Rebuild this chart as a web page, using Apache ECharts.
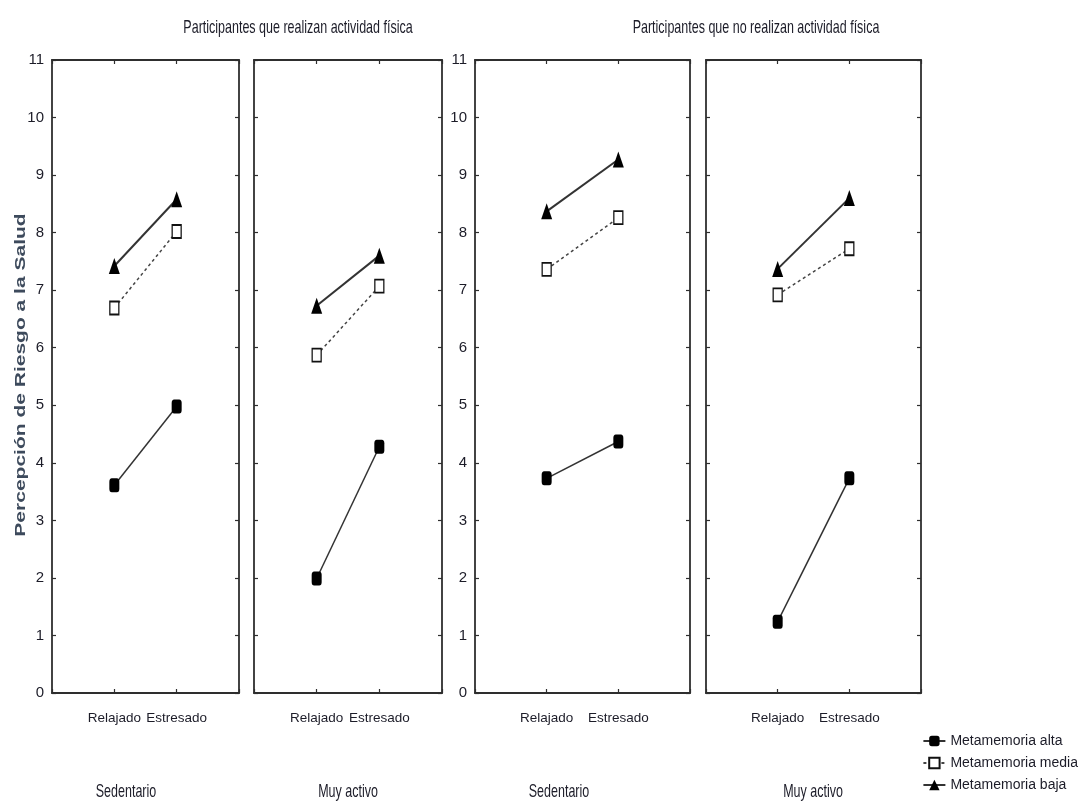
<!DOCTYPE html>
<html><head><meta charset="utf-8">
<script src="https://cdn.jsdelivr.net/npm/echarts@6/dist/echarts.min.js"></script>
<style>html,body{margin:0;padding:0;background:#fff}#c{width:1091px;height:803px}</style>
</head><body><div id="c"></div>
<script>
// ---- data ----
const conditions = ['', 'Relajado', 'Estresado', ''];
const panelGroups = ['Sedentario', 'Muy activo', 'Sedentario', 'Muy activo'];
const panelTitles = ['Participantes que realizan actividad física', 'Participantes que no realizan actividad física'];
const yAxisTitle = 'Percepción de Riesgo a la Salud';
const seriesNames = ['Metamemoria alta', 'Metamemoria media', 'Metamemoria baja'];
// values per panel: [Relajado, Estresado]
const metaAlta  = [[3.61, 4.98], [1.99, 4.28], [3.73, 4.37], [1.24, 3.73]];
const metaMedia = [[6.69, 8.02], [5.87, 7.07], [7.36, 8.26], [6.92, 7.72]];
const metaBaja  = [[7.42, 8.58], [6.73, 7.60], [8.37, 9.27], [7.37, 8.60]];

// ---- layout ----
const FONT = '"Liberation Sans",Arial,sans-serif';
const TXT = '#1c1c28';
const LINE = '#2e2e2e';
const panels = [
  {left: 52, width: 187, labels: true},
  {left: 254, width: 188, labels: false},
  {left: 475, width: 215, labels: true},
  {left: 706, width: 215, labels: false}
];
const TOP = 60, HEIGHT = 633;
const groupLabelX = [126, 348, 559, 813];
const STRETCH = 1.45;

const grid = [], xAxis = [], yAxis = [], series = [];
const styles = [
  {data: metaAlta, symbol: 'roundRect', size: [10, 14], lineType: 'solid', width: 1.5, fill: '#000', border: '#000'},
  {data: metaMedia, symbol: 'rect', size: [9, 13], lineType: [3, 3], width: 1.5, fill: '#fff', border: '#111'},
  {data: metaBaja, symbol: 'triangle', size: [11, 16], lineType: 'solid', width: 2, fill: '#000', border: '#000'}
];
panels.forEach((p, i) => {
  grid.push({left: p.left, top: TOP, width: p.width, height: HEIGHT, containLabel: false});
  const tick = {show: true, inside: true, length: 4, lineStyle: {color: LINE, width: 1.2}};
  const axLine = {show: true, onZero: false, lineStyle: {color: LINE, width: 1.8}};
  xAxis.push({type: 'category', gridIndex: i, position: 'bottom', data: conditions, boundaryGap: false,
    axisLine: axLine, axisTick: Object.assign({interval: 0}, tick),
    axisLabel: {interval: 0, margin: 18, fontFamily: FONT, fontSize: 13.5, color: TXT}, splitLine: {show: false}});
  xAxis.push({type: 'category', gridIndex: i, position: 'top', data: conditions, boundaryGap: false,
    axisLine: axLine, axisTick: Object.assign({interval: 0}, tick), axisLabel: {show: false}, splitLine: {show: false}});
  yAxis.push({type: 'value', gridIndex: i, position: 'left', min: 0, max: 11, interval: 1,
    axisLine: axLine, axisTick: tick,
    axisLabel: {show: p.labels, margin: 8, fontFamily: FONT, fontSize: 15, color: TXT}, splitLine: {show: false}});
  yAxis.push({type: 'value', gridIndex: i, position: 'right', min: 0, max: 11, interval: 1,
    axisLine: axLine, axisTick: tick, axisLabel: {show: false}, splitLine: {show: false}});
  styles.forEach((s, k) => {
    series.push({
      name: seriesNames[k], type: 'line', xAxisIndex: i * 2, yAxisIndex: i * 2,
      data: ['-', s.data[i][0], s.data[i][1], '-'],
      symbol: s.symbol, symbolSize: s.size, showAllSymbol: true, connectNulls: false,
      lineStyle: {color: k === 1 ? '#444' : '#333', width: s.width, type: s.lineType},
      itemStyle: {color: s.fill, borderColor: s.border, borderWidth: k === 1 ? 1.5 : 0},
      emphasis: {disabled: true}, animation: false, z: 3 - k
    });
  });
});

const graphic = [
  {type: 'text', x: 298, y: 28, scaleY: STRETCH, style: {text: panelTitles[0], font: '12.5px ' + FONT, fill: TXT, align: 'center', verticalAlign: 'middle'}},
  {type: 'text', x: 756, y: 28, scaleY: STRETCH, style: {text: panelTitles[1], font: '12.5px ' + FONT, fill: TXT, align: 'center', verticalAlign: 'middle'}},
  {type: 'text', x: 21, y: 375, rotation: Math.PI / 2, scaleX: 1.5, style: {text: yAxisTitle, font: 'bold 14px ' + FONT, fill: '#3d4a5c', align: 'center', verticalAlign: 'middle'}}
];
panelGroups.forEach((g, i) => {
  graphic.push({type: 'text', x: groupLabelX[i], y: 792, scaleY: STRETCH, style: {text: g, font: '12.5px ' + FONT, fill: TXT, align: 'center', verticalAlign: 'middle'}});
});

const chart = echarts.init(document.getElementById('c'), null, {renderer: 'canvas'});
chart.setOption({
  backgroundColor: '#fff',
  animation: false,
  grid, xAxis, yAxis, series, graphic,
  legend: {
    data: seriesNames, orient: 'vertical', right: 8, top: 729, itemGap: 8, itemWidth: 22, itemHeight: 13,
    textStyle: {fontFamily: FONT, fontSize: 14, color: TXT}, selectedMode: false
  }
});
</script></body></html>
